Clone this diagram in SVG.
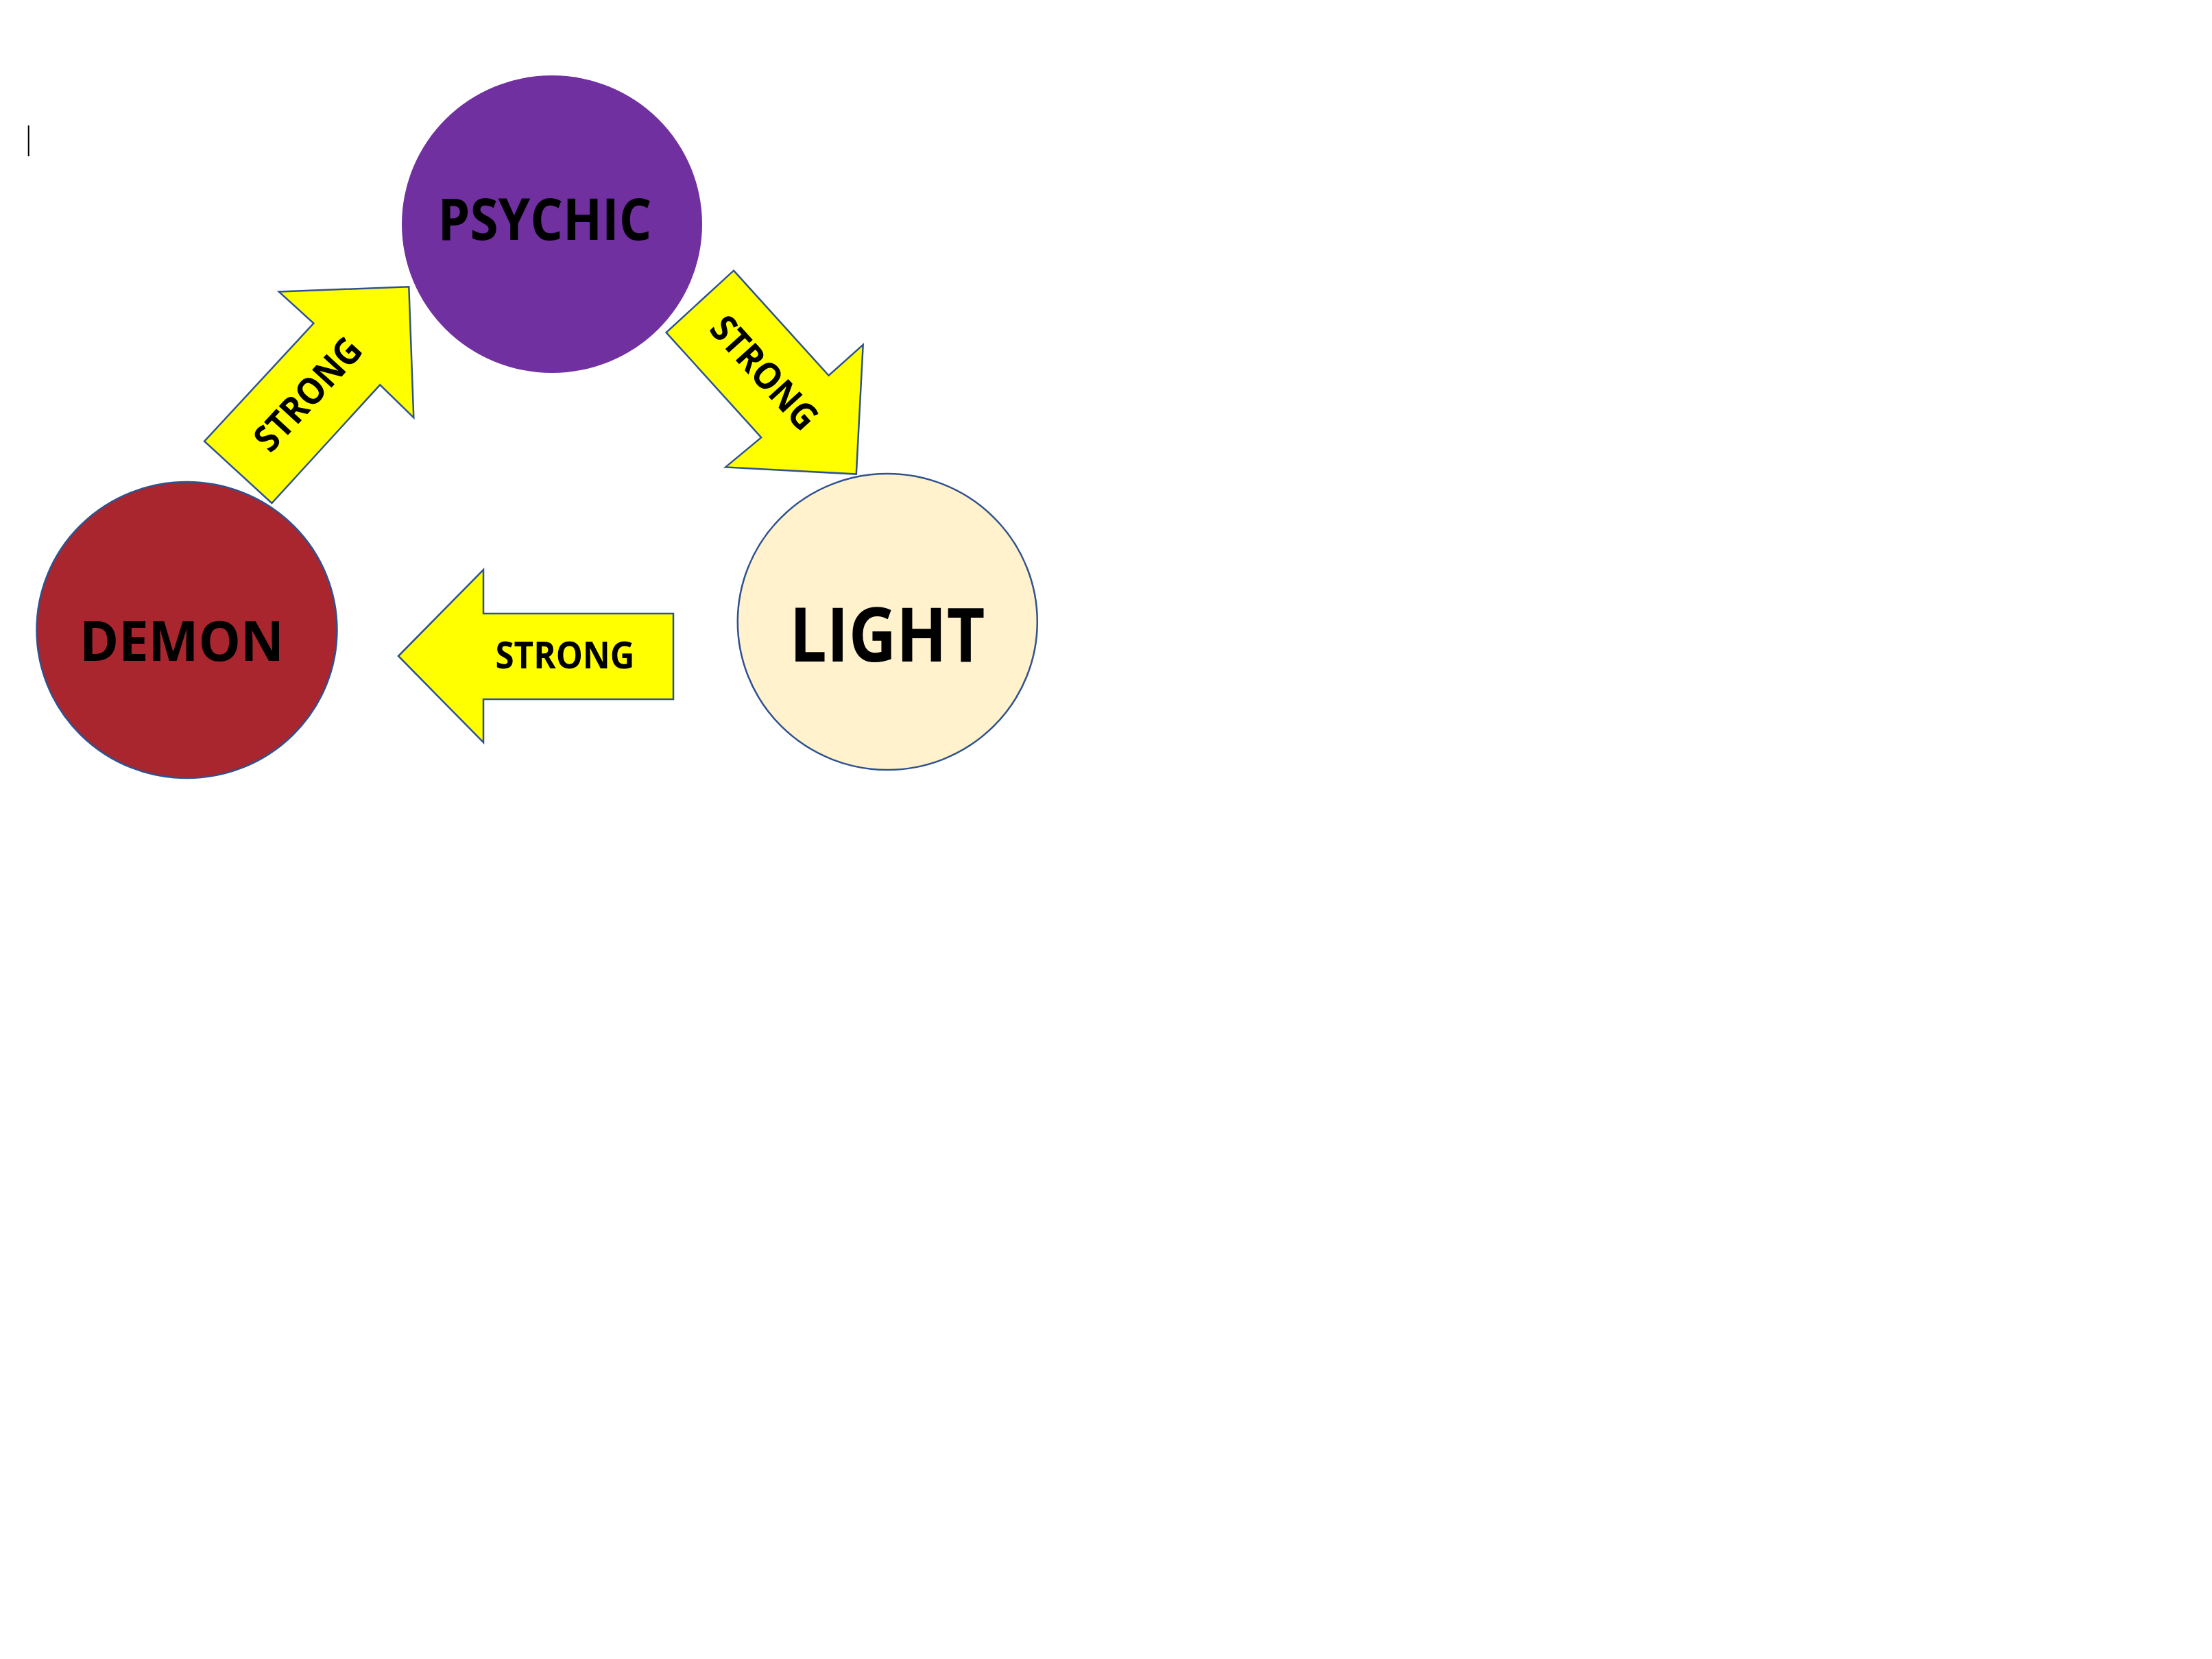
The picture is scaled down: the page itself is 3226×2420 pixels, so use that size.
<svg xmlns="http://www.w3.org/2000/svg" width="3226" height="2420" viewBox="0 0 3226 2420">
<style>
.node{stroke:#2F528F;stroke-width:2.5}
.arrow{fill:#FFFF00;stroke:#2F528F;stroke-width:2.5;stroke-linejoin:miter}
.lbl{font-family:"Open Sans","Noto Sans","Liberation Sans",sans-serif;font-weight:bold;fill:#000;text-anchor:middle}
.al{font-size:54px}
</style>
<rect width="3226" height="2420" fill="#FFFFFF"/>
<line x1="41.7" y1="183" x2="41.7" y2="228" stroke="#000" stroke-width="2"/>
<g id="psychic">
<ellipse cx="805" cy="327" rx="219" ry="217" fill="#7030A0"/>
<text class="lbl" x="794.5" y="350" font-size="84" textLength="312" lengthAdjust="spacingAndGlyphs">PSYCHIC</text>
</g>
<g id="demon">
<ellipse class="node" cx="272.5" cy="919" rx="219" ry="216" fill="#A9262F"/>
<text class="lbl" x="265" y="964" font-size="81" textLength="298" lengthAdjust="spacingAndGlyphs">DEMON</text>
</g>
<g id="light">
<ellipse class="node" cx="1294.3" cy="907" rx="218.5" ry="216" fill="#FFF2CC"/>
<text class="lbl" x="1294" y="965" font-size="109" textLength="285" lengthAdjust="spacingAndGlyphs">LIGHT</text>
</g>
<g id="connectors">
<g id="demon-to-psychic">
<polygon class="arrow" points="406.9,425.6 596.3,418.2 603.3,609.1 554.2,561.4 396.4,734 298.1,643.7 457.4,471.6"/>
<text class="lbl al" transform="translate(449,575) rotate(-47.4)" x="0" y="19" textLength="203" lengthAdjust="spacingAndGlyphs">STRONG</text>
</g>
<g id="psychic-to-light">
<polygon class="arrow" points="1070,394.7 1208.6,547.8 1258.7,502.9 1248.8,691.6 1058.2,681.4 1110.2,638.1 971.6,485"/>
<text class="lbl al" transform="translate(1114.8,543.7) rotate(47.8)" x="0" y="19" textLength="203" lengthAdjust="spacingAndGlyphs">STRONG</text>
</g>
<g id="light-to-demon">
<polygon class="arrow" points="581,957 705,831 705,895 982,895 982,1020 705,1020 705,1083"/>
<text class="lbl al" x="824" y="975" textLength="203" lengthAdjust="spacingAndGlyphs">STRONG</text>
</g>
</g>
</svg>
